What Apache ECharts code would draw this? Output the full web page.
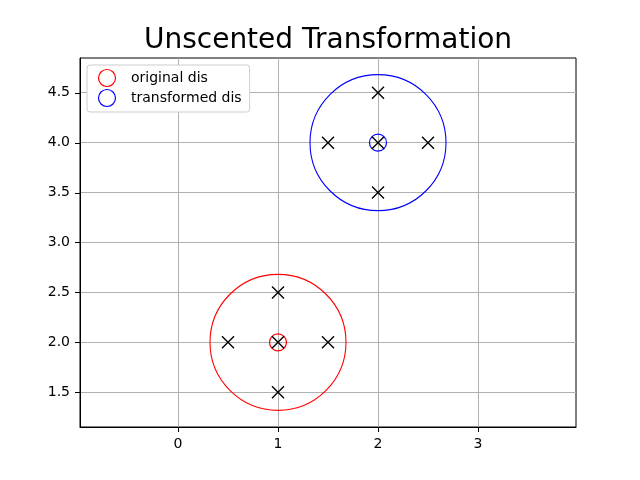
<!DOCTYPE html>
<html><head><meta charset="utf-8">
<script src="https://cdn.jsdelivr.net/npm/echarts@6/dist/echarts.min.js"></script>
<style>html,body{margin:0;padding:0;background:#fff}#c{width:640px;height:480px}</style>
</head><body><div id="c"></div>
<script>
var xTicks = [0, 1, 2, 3];
var yTicks = [1.5, 2.0, 2.5, 3.0, 3.5, 4.0, 4.5];
var xRange = [-0.98, 3.98];
var yRange = [1.152, 4.848];
var originalMean = [[1, 2]];
var transformedMean = [[2, 4]];
var originalSigma = [[1, 2], [1.5, 2], [0.5, 2], [1, 2.5], [1, 1.5]];
var transformedSigma = [[2, 4], [2.5, 4], [1.5, 4], [2, 4.5], [2, 3.5]];
var originalCircle = [[1, 2, 0.68]];
var transformedCircle = [[2, 4, 0.68]];

var chart = echarts.init(document.getElementById('c'), null, {renderer: 'canvas'});
var font = 'DejaVu Sans';
var xPath = 'path://M0,0L10,10M10,0L0,10';

function circleSeries(name, data, color) {
  return {
    name: name, type: 'custom', data: data, z: 3, silent: true,
    renderItem: function (params, api) {
      var c = api.coord([api.value(0), api.value(1)]);
      var r = api.size([api.value(2), 0])[0];
      return {type: 'circle', shape: {cx: c[0], cy: c[1], r: r},
              style: {fill: 'none', stroke: color, lineWidth: 1.1}};
    }
  };
}

function tickSeries(name, values, isX) {
  return {
    name: name, type: 'custom', silent: true, clip: false, z: 6,
    data: values.map(function (v) { return [v]; }),
    renderItem: function (params, api) {
      var v = api.value(0);
      var p, shape;
      if (isX) {
        p = api.coord([v, yRange[0]]);
        var x = Math.round(p[0]) + 0.5;
        shape = {x1: x, y1: p[1], x2: x, y2: p[1] + 5};
      } else {
        p = api.coord([xRange[0], v]);
        var y = Math.round(p[1]) + 0.5;
        shape = {x1: p[0] - 5, y1: y, x2: p[0], y2: y};
      }
      return {type: 'line', shape: shape, style: {stroke: '#000', lineWidth: 1}};
    }
  };
}

chart.setOption({
  animation: false,
  title: {text: 'Unscented Transformation', left: 323, top: 22, textAlign: 'center',
          textStyle: {fontFamily: font, fontSize: 28, fontWeight: 'normal', color: '#000'}},
  grid: {left: 80, right: 64, top: 58, bottom: 53, show: true, borderColor: '#000', borderWidth: 1},
  legend: {
    left: 87, top: 65, orient: 'vertical', padding: [2, 8, 3, 9], itemGap: -2,
    itemWidth: 38, itemHeight: 17,
    backgroundColor: '#fff', borderColor: '#cccccc', borderWidth: 1, borderRadius: 3,
    textStyle: {fontFamily: font, fontSize: 14, color: '#000'},
    data: [
      {name: 'original dis', icon: 'circle', itemStyle: {color: 'none', borderColor: '#ff0000', borderWidth: 1.2, opacity: 1}},
      {name: 'transformed dis', icon: 'circle', itemStyle: {color: 'none', borderColor: '#0000ff', borderWidth: 1.2, opacity: 1}}
    ]
  },
  xAxis: {
    type: 'value', min: xRange[0], max: xRange[1],
    axisLine: {show: true, onZero: false, lineStyle: {color: '#000', width: 1}},
    axisTick: {show: false, customValues: xTicks},
    axisLabel: {customValues: xTicks, fontFamily: font, fontSize: 14, color: '#000', margin: 10},
    splitLine: {show: true, customValues: xTicks, lineStyle: {color: '#b0b0b0', width: 1}}
  },
  yAxis: {
    type: 'value', min: yRange[0], max: yRange[1],
    axisLine: {show: true, onZero: false, lineStyle: {color: '#000', width: 1}},
    axisTick: {show: false, customValues: yTicks},
    axisLabel: {customValues: yTicks, fontFamily: font, fontSize: 14, color: '#000', margin: 10,
                formatter: function (v) { return v.toFixed(1); }},
    splitLine: {show: true, customValues: yTicks, lineStyle: {color: '#b0b0b0', width: 1}}
  },
  series: [
    {name: 'original dis', type: 'scatter', data: originalMean, symbol: 'circle', symbolSize: 17, z: 4,
     itemStyle: {color: 'none', borderColor: '#ff0000', borderWidth: 1.2, opacity: 1}},
    circleSeries('original circle', originalCircle, '#ff0000'),
    {name: 'transformed dis', type: 'scatter', data: transformedMean, symbol: 'circle', symbolSize: 17, z: 4,
     itemStyle: {color: 'none', borderColor: '#0000ff', borderWidth: 1.2, opacity: 1}},
    circleSeries('transformed circle', transformedCircle, '#0000ff'),
    {name: 'original sigma', type: 'scatter', data: originalSigma, symbol: xPath, symbolSize: 12, z: 5,
     itemStyle: {color: 'none', borderColor: '#000', borderWidth: 1.4, opacity: 1}},
    {name: 'transformed sigma', type: 'scatter', data: transformedSigma, symbol: xPath, symbolSize: 12, z: 5,
     itemStyle: {color: 'none', borderColor: '#000', borderWidth: 1.4, opacity: 1}},
    tickSeries('x ticks', xTicks, true),
    tickSeries('y ticks', yTicks, false)
  ]
});
</script></body></html>
